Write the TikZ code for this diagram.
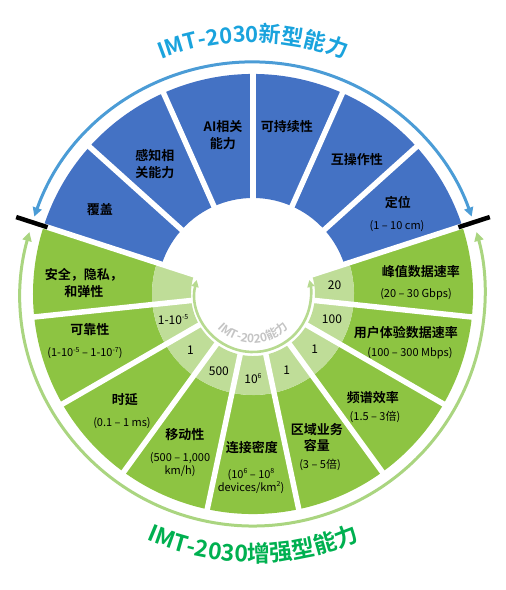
\documentclass[tikz,border=0pt]{standalone}
\usepackage{fontspec}
\setmainfont{Noto Sans CJK SC}[BoldFont={* Bold}]
\usetikzlibrary{arrows.meta,decorations.text}
\definecolor{bseg}{HTML}{4472C4}
\definecolor{gdark}{HTML}{8DC442}
\definecolor{glight}{HTML}{BFDD98}
\definecolor{barc}{HTML}{4B9CD6}
\definecolor{garc}{HTML}{AAD580}
\definecolor{iarc}{HTML}{B7DA90}
\definecolor{ttop}{HTML}{1AA3DD}
\definecolor{tbot}{HTML}{00B050}
\definecolor{tin}{HTML}{C4C4C4}
\newcommand{\supx}[1]{\raisebox{0.42em}{\fontsize{7}{7}\selectfont #1}}
\begin{document}
\begin{tikzpicture}[x=1pt,y=1pt,
  lab/.style={font=\fontsize{13}{16.5}\selectfont\bfseries, align=center, inner sep=0pt},
  sub/.style={font=\fontsize{11}{13}\selectfont, align=center, inner sep=0pt},
  num/.style={font=\fontsize{12}{14}\selectfont, inner sep=0pt},
  divider/.style={white, line width=5.5pt},
  bar/.style={black, line width=4.5pt},
  bigtip/.style={{Triangle[length=9pt,width=9pt]}-{Triangle[length=9pt,width=9pt]}},
  smalltip/.style={{Triangle[length=7pt,width=7pt]}-{Triangle[length=7pt,width=7pt]}}]
\useasboundingbox (-253,-296) rectangle (253,294);
% sectors
\fill[gdark] (162:101) arc[start angle=162,end angle=378,radius=101] -- (378:220) arc[start angle=378,end angle=162,radius=220] -- cycle;
\fill[glight] (162:62) arc[start angle=162,end angle=378,radius=62] -- (378:101) arc[start angle=378,end angle=162,radius=101] -- cycle;
\fill[bseg] (18:96) arc[start angle=18,end angle=162,radius=96] -- (162:220) arc[start angle=162,end angle=18,radius=220] -- cycle;
\foreach \a in {18,42,...,354} \draw[divider] (\a:50) -- (\a:226);
% bars
\draw[bar] (162:216) -- (162:249);
\draw[bar] (18:216) -- (18:249);
% arcs
\draw[barc, line width=3pt, bigtip] (160.5:232) arc[start angle=160.5,end angle=19.5,radius=232];
\draw[garc, line width=3pt, bigtip] (164.5:232) arc[start angle=164.5,end angle=375.5,radius=232];
\draw[iarc, line width=2.6pt, smalltip] (166:58) arc[start angle=166,end angle=374,radius=58];
% curved titles
\path[decorate, decoration={text along path, text align=center, text color=ttop,
  text={|\fontsize{22}{22}\selectfont\bfseries|IMT-2030新型能力}}]
  (130:252) arc[start angle=130,end angle=50,radius=252];
\path[decorate, decoration={text along path, text align=center, text color=tbot,
  text={|\fontsize{23}{23}\selectfont\bfseries|IMT-2030增强型能力}}]
  (215:268) arc[start angle=215,end angle=325,radius=268];
\path[decorate, decoration={text along path, text align=center, text color=tin,
  text={|\fontsize{12}{12}\selectfont\bfseries|IMT-2020能力}}]
  (200:49) arc[start angle=200,end angle=340,radius=49];
% blue labels
\node[lab] (fg) at (-153,84) {覆盖};
\node[lab] (gz) at (-98,130) {感知相\\关能力};
\node[lab] (ai) at (-30,159) {AI相关\\能力};
\node[lab] (kcx) at (34,167) {可持续性};
\node[lab] (hcz) at (104,134) {互操作性};
\node[lab] (dw) at (145,92) {定位};
\node[sub] (dws) at (144,68) {(1 – 10 cm)};
% green labels
\node[lab] (aq) at (-169,11) {安全，隐私，\\和弹性};
\node[lab] (kkx) at (-163,-36) {可靠性};
\node[sub] (kkxs) at (-168,-59) {(1-10\supx{-5} – 1-10\supx{-7})};
\node[lab] (sy) at (-128,-106) {时延};
\node[sub] (sys) at (-131,-129) {(0.1 – 1 ms)};
\node[lab] (ydx) at (-68,-141) {移动性};
\node[sub] (ydxs) at (-73,-171) {(500 – 1,000\\km/h)};
\node[lab] (ljmd) at (-1,-154) {连接密度};
\node[sub] (ljmds) at (-2,-187) {(10\supx{6} – 10\supx{8}\\devices/km\supx{2})};
\node[lab] (qy) at (64,-143.5) {区域业务\\容量};
\node[sub] (qys) at (67,-171) {(3 – 5倍)};
\node[lab] (pp) at (120,-104) {频谱效率};
\node[sub] (pps) at (122,-123) {(1.5 – 3倍)};
\node[lab] (yh) at (153,-39) {用户体验数据速率};
\node[sub] (yhs) at (157,-59) {(100 – 300 Mbps)};
\node[lab] (fz) at (168,22) {峰值数据速率};
\node[sub] (fzs) at (163,0) {(20 – 30 Gbps)};
% numbers
\node[num] (n1) at (198:84) {1-10\supx{-5}};
\node[num] (n2) at (222:84) {1};
\node[num] (n3) at (246:84) {500};
\node[num] (n4) at (270:85) {10\supx{6}};
\node[num] (n5) at (294:83) {1};
\node[num] (n6) at (318:83) {1};
\node[num] (n7) at (342:83) {100};
\node[num] (n8) at (6:82) {20};
\end{tikzpicture}
\end{document}
